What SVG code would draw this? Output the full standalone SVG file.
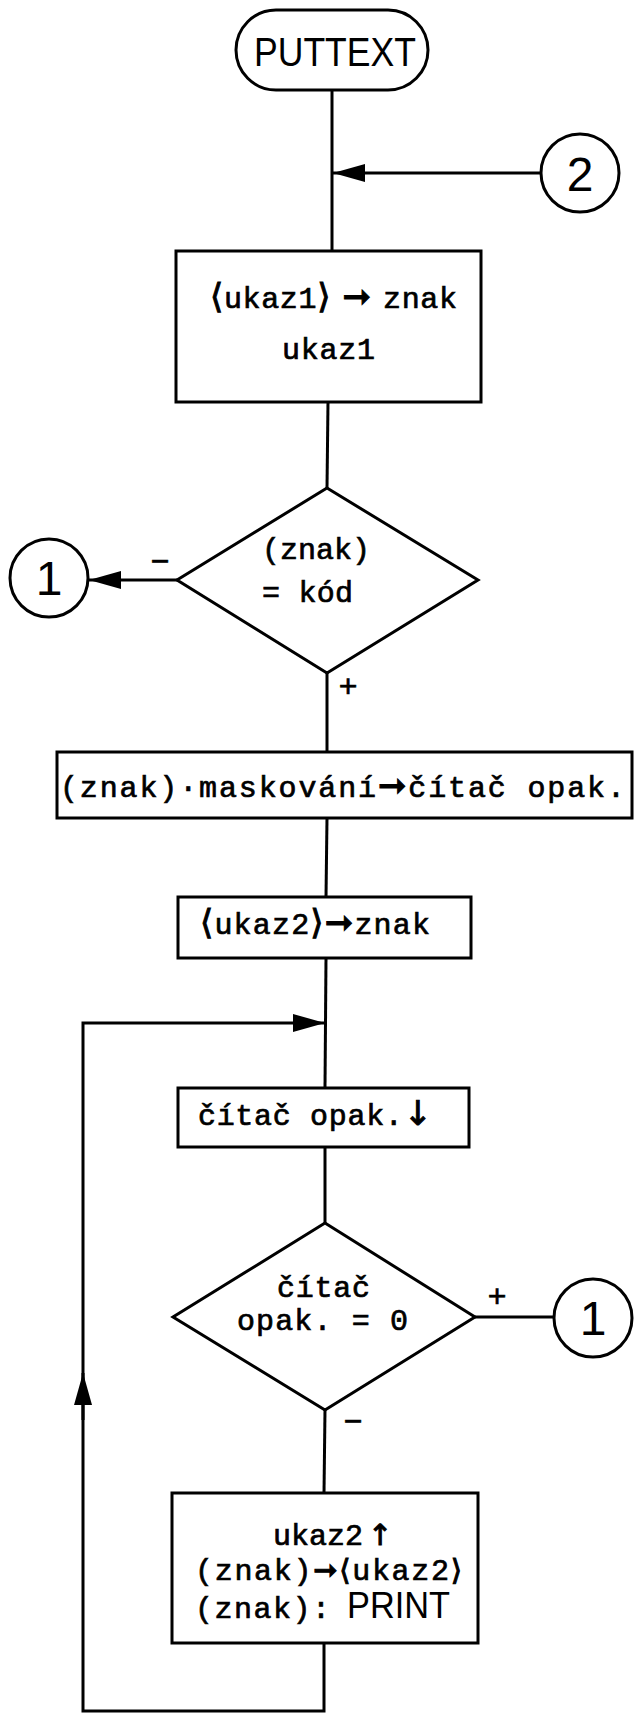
<svg xmlns="http://www.w3.org/2000/svg" width="634" height="1714" viewBox="0 0 634 1714">
<defs>
<style>
.s{fill:none;stroke:#000;stroke-width:3;stroke-linejoin:miter}
.n{fill:#fff;stroke:#000;stroke-width:3}
.m{font-family:"Liberation Mono","DejaVu Sans Mono",monospace;font-size:30px;fill:#000;stroke:#000;stroke-width:0.7}
.g{font-family:"DejaVu Sans",sans-serif;font-size:34px;stroke-width:1}
.h{font-family:"DejaVu Sans",sans-serif;font-size:29px;stroke-width:1}
.a{font-family:"Liberation Sans",Arial,sans-serif;fill:#000}
.d{font-family:"Liberation Sans",Arial,sans-serif;font-size:48px;fill:#000;text-anchor:middle}
.l{font-family:"Liberation Sans",Arial,sans-serif;font-size:32px;fill:#000;text-anchor:middle;stroke:#000;stroke-width:0.6}
</style>
<marker id="ah" viewBox="0 0 32 18" refX="32" refY="9" markerWidth="32" markerHeight="18" markerUnits="userSpaceOnUse" orient="auto">
<path d="M0,0 L32,9 L0,18 z" fill="#000"/>
</marker>
</defs>
<g id="connectors">
<path class="s" d="M332,89 L332,251"/>
<path class="s" d="M541,173 L333,173" marker-end="url(#ah)"/>
<path class="s" d="M328,402 L327,488"/>
<path class="s" d="M177,580 L89,580" marker-end="url(#ah)"/>
<path class="s" d="M327,673 L327,752"/>
<path class="s" d="M327,818 L326,897"/>
<path class="s" d="M326,958 L325,1088"/>
<path class="s" d="M325,1147 L325,1223"/>
<path class="s" d="M475,1317 L554,1317"/>
<path class="s" d="M325,1410 L324,1493"/>
<path class="s" d="M324,1643 L324,1711 L83,1711 L83,1023 L325,1023" marker-end="url(#ah)"/>
<path class="s" d="M83,1420 L83,1373" marker-end="url(#ah)"/>
<text class="l" x="160" y="572">−</text>
<text class="l" x="348" y="697">+</text>
<text class="l" x="497" y="1307">+</text>
<text class="l" x="353" y="1432">−</text>
</g>
<g id="start">
<rect class="n" x="236" y="10" width="192" height="80" rx="40" ry="40"/>
<text class="a" x="254" y="66" font-size="40" textLength="162" lengthAdjust="spacingAndGlyphs">PUTTEXT</text>
</g>
<g id="conn2">
<circle class="n" cx="580" cy="173" r="39"/>
<text class="d" x="580" y="191">2</text>
</g>
<g id="box1">
<rect class="n" x="176" y="251" width="305" height="151"/>
<text class="m" x="210" y="308" textLength="247"><tspan class="g">⟨</tspan>ukaz1<tspan class="g">⟩ ➞ </tspan>znak</text>
<text class="m" x="282" y="359" textLength="93">ukaz1</text>
</g>
<g id="dec1">
<polygon class="n" points="327,488 478,580 327,673 177,580"/>
<text class="m" x="262" y="559" textLength="108">(znak)</text>
<text class="m" x="262" y="602" textLength="91">= kód</text>
</g>
<g id="conn1a">
<circle class="n" cx="49" cy="578" r="39"/>
<text class="d" x="49" y="595">1</text>
</g>
<g id="box2">
<rect class="n" x="57" y="752" width="575" height="66"/>
<text class="m" x="60" y="797" textLength="565">(znak)·maskování<tspan class="g">➞</tspan>čítač opak.</text>
</g>
<g id="box3">
<rect class="n" x="178" y="897" width="293" height="61"/>
<text class="m" x="200" y="934" textLength="230"><tspan class="g">⟨</tspan>ukaz2<tspan class="g">⟩➞</tspan>znak</text>
</g>
<g id="box4">
<rect class="n" x="178" y="1088" width="291" height="59"/>
<text class="m" x="198" y="1125" textLength="234">čítač opak.<tspan class="g">↓</tspan></text>
</g>
<g id="dec2">
<polygon class="n" points="325,1223 475,1317 325,1410 173,1317"/>
<text class="m" x="277" y="1297" textLength="93">čítač</text>
<text class="m" x="237" y="1330" textLength="171">opak. = 0</text>
</g>
<g id="conn1b">
<circle class="n" cx="593" cy="1318" r="39"/>
<text class="d" x="593" y="1335">1</text>
</g>
<g id="box5">
<rect class="n" x="172" y="1493" width="306" height="150"/>
<text class="m" x="273" y="1545">ukaz2<tspan class="h" x="368">↑</tspan></text>
<text class="m" x="195" y="1580" textLength="267">(znak)<tspan class="h">➞⟨</tspan>ukaz2<tspan class="h">⟩</tspan></text>
<text class="m" x="195" y="1618" textLength="135">(znak):</text>
<text class="a" x="347" y="1618" font-size="37" textLength="103" lengthAdjust="spacingAndGlyphs">PRINT</text>
</g>
</svg>
